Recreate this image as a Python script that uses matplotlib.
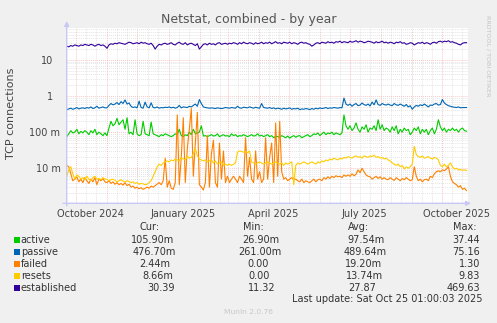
import matplotlib
matplotlib.use('Agg')
import matplotlib.pyplot as plt
from matplotlib.patches import Rectangle
from matplotlib.transforms import ScaledTranslation
import datetime as dt

# daily averages, one value every 2 days (rows of 40 days)
established = [24, 23, 25, 24, 26, 25, 24, 26, 25, 27, 26, 25, 27, 26, 24, 26, 27, 25, 26, 24,
               21, 26, 28, 27, 29, 28, 30, 29, 28, 27, 29, 31, 30, 28, 29, 30, 28, 31, 29, 30,
               28, 27, 29, 25, 20, 24, 27, 26, 28, 29, 27, 28, 30, 27, 26, 29, 31, 28, 27, 30,
               26, 28, 29, 27, 25, 28, 20, 23, 27, 28, 26, 29, 27, 28, 26, 29, 30, 27, 28, 29,
               27, 29, 28, 30, 29, 27, 30, 28, 31, 29, 28, 30, 29, 27, 30, 28, 29, 31, 28, 30,
               29, 31, 28, 30, 32, 29, 30, 28, 31, 30, 29, 31, 28, 30, 29, 27, 30, 31, 29, 30,
               28, 27, 24, 26, 29, 30, 28, 31, 30, 29, 32, 30, 31, 29, 32, 31, 33, 30, 32, 31,
               30, 33, 31, 32, 34, 31, 33, 32, 30, 31, 33, 32, 31, 29, 32, 30, 31, 33, 30, 31,
               29, 31, 30, 28, 31, 30, 32, 29, 30, 27, 28, 30, 29, 26, 28, 30, 29, 31, 28, 30,
               29, 27, 30, 31, 29, 32, 33, 31, 33, 32, 34, 31, 32, 30, 29, 27, 26, 29, 30, 30]
passive = [0.42, 0.44, 0.46, 0.43, 0.45, 0.48, 0.44, 0.46, 0.47, 0.45, 0.48, 0.46, 0.50, 0.45, 0.47, 0.52, 0.46, 0.48, 0.50, 0.47,
           0.47, 0.55, 0.62, 0.57, 0.60, 0.66, 0.58, 0.70, 0.62, 0.78, 0.60, 0.64, 0.52, 0.48, 0.50, 0.47, 0.72, 0.48, 0.46, 0.68,
           0.50, 0.47, 0.65, 0.48, 0.47, 0.50, 0.46, 0.48, 0.47, 0.49, 0.48, 0.50, 0.47, 0.49, 0.46, 0.48, 0.55, 0.47, 0.50, 0.49,
           0.48, 0.52, 0.50, 0.55, 0.60, 0.52, 0.80, 0.62, 0.50, 0.48, 0.47, 0.46, 0.47, 0.46, 0.45, 0.47, 0.46, 0.45, 0.46, 0.48,
           0.47, 0.46, 0.48, 0.47, 0.46, 0.52, 0.47, 0.46, 0.49, 0.48, 0.47, 0.50, 0.48, 0.46, 0.49, 0.47, 0.46, 0.62, 0.48, 0.47,
           0.46, 0.48, 0.45, 0.47, 0.44, 0.46, 0.45, 0.43, 0.46, 0.44, 0.45, 0.47, 0.43, 0.45, 0.44, 0.46, 0.42, 0.44, 0.43, 0.45,
           0.44, 0.42, 0.45, 0.43, 0.46, 0.44, 0.47, 0.45, 0.46, 0.48, 0.45, 0.47, 0.46, 0.48, 0.47, 0.46, 0.48, 0.47, 0.88, 0.60,
           0.55, 0.60, 0.52, 0.58, 0.62, 0.54, 0.56, 0.64, 0.58, 0.55, 0.60, 0.53, 0.68, 0.57, 0.78, 0.58, 0.55, 0.62, 0.58, 0.56,
           0.60, 0.56, 0.54, 0.62, 0.57, 0.55, 0.60, 0.56, 0.52, 0.58, 0.50, 0.54, 0.43, 0.50, 0.55, 0.52, 0.57, 0.54, 0.60, 0.55,
           0.50, 0.56, 0.55, 0.60, 0.62, 0.56, 0.58, 0.80, 0.64, 0.58, 0.54, 0.52, 0.50, 0.49, 0.48, 0.50, 0.47, 0.48, 0.48, 0.48]
active = [0.075, 0.09, 0.11, 0.095, 0.10, 0.12, 0.09, 0.105, 0.095, 0.11, 0.10, 0.085, 0.11, 0.095, 0.12, 0.085, 0.10, 0.09, 0.08, 0.095,
          0.08, 0.13, 0.20, 0.15, 0.17, 0.24, 0.16, 0.19, 0.22, 0.12, 0.25, 0.09, 0.10, 0.085, 0.22, 0.09, 0.08, 0.085, 0.20, 0.09,
          0.085, 0.08, 0.19, 0.09, 0.085, 0.08, 0.075, 0.085, 0.08, 0.09, 0.085, 0.08, 0.075, 0.08, 0.09, 0.085, 0.12, 0.08, 0.075, 0.085,
          0.08, 0.10, 0.085, 0.12, 0.09, 0.095, 0.10, 0.15, 0.078, 0.08, 0.075, 0.08, 0.085, 0.078, 0.08, 0.09, 0.075, 0.08, 0.085, 0.078,
          0.08, 0.075, 0.09, 0.08, 0.085, 0.075, 0.08, 0.078, 0.085, 0.08, 0.075, 0.08, 0.085, 0.078, 0.08, 0.09, 0.078, 0.082, 0.075, 0.08,
          0.085, 0.075, 0.08, 0.07, 0.078, 0.075, 0.072, 0.08, 0.075, 0.07, 0.078, 0.068, 0.075, 0.08, 0.072, 0.078, 0.08, 0.07, 0.075, 0.08,
          0.085, 0.075, 0.08, 0.09, 0.085, 0.095, 0.08, 0.09, 0.10, 0.085, 0.095, 0.09, 0.10, 0.085, 0.095, 0.09, 0.085, 0.095, 0.30, 0.15,
          0.12, 0.15, 0.11, 0.13, 0.18, 0.12, 0.10, 0.14, 0.12, 0.16, 0.10, 0.13, 0.12, 0.15, 0.11, 0.22, 0.12, 0.16, 0.11, 0.13,
          0.12, 0.10, 0.14, 0.11, 0.15, 0.09, 0.12, 0.10, 0.13, 0.11, 0.12, 0.085, 0.10, 0.13, 0.11, 0.14, 0.09, 0.12, 0.10, 0.12,
          0.085, 0.11, 0.13, 0.09, 0.12, 0.22, 0.14, 0.11, 0.13, 0.10, 0.12, 0.11, 0.13, 0.11, 0.12, 0.10, 0.12, 0.13, 0.11, 0.106]
resets = [0.006, 0.009, 0.011, 0.007, 0.005, 0.0065, 0.006, 0.005, 0.0055, 0.0048, 0.006, 0.005, 0.0045, 0.0055, 0.006, 0.005, 0.0052, 0.0048, 0.0055, 0.005,
          0.005, 0.0045, 0.0048, 0.005, 0.0046, 0.0042, 0.0045, 0.0048, 0.0044, 0.0042, 0.0045, 0.0043, 0.004, 0.0042, 0.0038, 0.004, 0.0036, 0.0038, 0.0037, 0.0035,
          0.0036, 0.004, 0.0045, 0.006, 0.008, 0.011, 0.013, 0.012, 0.014, 0.015, 0.016, 0.015, 0.017, 0.016, 0.018, 0.017, 0.016, 0.02, 0.018, 0.017,
          0.022, 0.019, 0.02, 0.025, 0.035, 0.022, 0.018, 0.017, 0.016, 0.017, 0.015, 0.016, 0.017, 0.014, 0.016, 0.013, 0.014, 0.015, 0.012, 0.013,
          0.012, 0.013, 0.012, 0.013, 0.014, 0.028, 0.03, 0.029, 0.028, 0.029, 0.027, 0.03, 0.015, 0.014, 0.013, 0.014, 0.015, 0.014, 0.013, 0.014,
          0.015, 0.014, 0.013, 0.014, 0.015, 0.014, 0.013, 0.014, 0.012, 0.014, 0.013, 0.014, 0.015, 0.0035, 0.012, 0.014, 0.013, 0.014, 0.015, 0.014,
          0.013, 0.014, 0.015, 0.014, 0.013, 0.015, 0.014, 0.016, 0.015, 0.017, 0.016, 0.018, 0.017, 0.019, 0.018, 0.017, 0.019, 0.018, 0.02, 0.019,
          0.021, 0.02, 0.019, 0.021, 0.022, 0.02, 0.021, 0.019, 0.022, 0.021, 0.02, 0.022, 0.021, 0.023, 0.02, 0.021, 0.019, 0.02, 0.018, 0.019,
          0.017, 0.016, 0.014, 0.013, 0.012, 0.013, 0.011, 0.012, 0.0095, 0.011, 0.01, 0.011, 0.013, 0.04, 0.024, 0.021, 0.02, 0.022, 0.019, 0.02,
          0.021, 0.019, 0.018, 0.02, 0.019, 0.017, 0.012, 0.011, 0.013, 0.011, 0.012, 0.014, 0.011, 0.0095, 0.01, 0.009, 0.0092, 0.0088, 0.009, 0.0087]
failed = [0.012, 0.011, 0.007, 0.0045, 0.005, 0.0058, 0.0042, 0.005, 0.004, 0.0055, 0.0045, 0.0038, 0.005, 0.0042, 0.0055, 0.0035, 0.005, 0.0045, 0.0052, 0.0042,
          0.004, 0.0045, 0.0038, 0.0042, 0.0036, 0.004, 0.0035, 0.0038, 0.0034, 0.004, 0.0033, 0.0036, 0.003, 0.0032, 0.0028, 0.003, 0.0027, 0.0029, 0.0026, 0.0028,
          0.003, 0.0028, 0.0032, 0.003, 0.0033, 0.0036, 0.004, 0.0035, 0.0045, 0.019, 0.003, 0.0045, 0.0028, 0.0026, 0.004, 0.30, 0.0035, 0.02, 0.25, 0.004,
          0.035, 0.12, 0.45, 0.006, 0.05, 0.35, 0.0035, 0.003, 0.0025, 0.004, 0.08, 0.003, 0.025, 0.06, 0.004, 0.003, 0.05, 0.005, 0.03, 0.004,
          0.006, 0.004, 0.005, 0.006, 0.005, 0.004, 0.006, 0.005, 0.004, 0.07, 0.006, 0.02, 0.005, 0.004, 0.03, 0.005, 0.008, 0.004, 0.005, 0.07,
          0.005, 0.02, 0.05, 0.004, 0.18, 0.006, 0.2, 0.008, 0.005, 0.0055, 0.0045, 0.005, 0.0055, 0.0048, 0.005, 0.0045, 0.0042, 0.005, 0.004, 0.0045,
          0.0042, 0.004, 0.0045, 0.005, 0.0042, 0.0048, 0.005, 0.0045, 0.0055, 0.005, 0.0058, 0.0052, 0.006, 0.0055, 0.0062, 0.0058, 0.006, 0.0055, 0.0065, 0.006,
          0.0065, 0.006, 0.007, 0.0062, 0.0068, 0.009, 0.0075, 0.01, 0.008, 0.0065, 0.006, 0.0058, 0.005, 0.0055, 0.006, 0.0052, 0.0058, 0.005, 0.0055, 0.005,
          0.0048, 0.0055, 0.005, 0.0046, 0.0055, 0.005, 0.0045, 0.0052, 0.0048, 0.0055, 0.005, 0.0045, 0.0048, 0.011, 0.006, 0.0045, 0.005, 0.0042, 0.0048, 0.005,
          0.0045, 0.006, 0.0055, 0.007, 0.008, 0.0085, 0.008, 0.009, 0.0085, 0.0095, 0.011, 0.006, 0.0042, 0.0038, 0.0035, 0.003, 0.0033, 0.0026, 0.0028, 0.0024]

labels = ['active', 'passive', 'failed', 'resets', 'established']
colors = ['#00cc00', '#0066b3', '#ff8000', '#ffcc00', '#330099']
cur = ['105.90m', '476.70m', '2.44m', '8.66m', '30.39']
mins = ['26.90m', '261.00m', '0.00', '0.00', '11.32']
avgs = ['97.54m', '489.64m', '19.20m', '13.74m', '27.87']
maxs = ['37.44', '75.16', '1.30', '9.83', '469.63']

first_day = dt.datetime(2024, 9, 21, 12)
last_day = dt.datetime(2025, 10, 25)
step = (last_day - first_day) / (len(active) - 1)
dates = [first_day + i * step for i in range(len(active))]

W, H = 497, 323
fig = plt.figure(figsize=(W / 100, H / 100), dpi=100, facecolor='#f0f0f0')


def fx(x):
    return x / W


def fy(y):
    return 1 - y / H


ax = fig.add_axes([fx(66.7), fy(203), (467.5 - 66.7) / W, (203 - 27.5) / H])
ax.set_facecolor('white')
for s in ax.spines.values():
    s.set_visible(False)

ax.set_yscale('log')
ax.set_ylim(1.09e-3, 79)
ax.set_xlim(dt.datetime(2024, 9, 21, 10), dt.datetime(2025, 10, 26))

# grid
dot = (0, (1, 1.6))
minor_col, major_col = '#d6d6d6', '#f4a8a8'
for dec in [0.001, 0.01, 0.1, 1, 10]:
    for k in range(2, 10):
        ax.axhline(dec * k, color=minor_col, lw=0.55, ls=dot, zorder=0)
for dec in [0.01, 0.1, 1, 10]:
    ax.axhline(dec, color=major_col, lw=0.55, ls=dot, zorder=0.5)
y, m = 2024, 9
while (y, m) <= (2025, 10):
    for d in (11, 21):
        ax.axvline(dt.datetime(y, m, d), color=minor_col, lw=0.55, ls=dot, zorder=0)
    if (y, m) > (2024, 9):
        ax.axvline(dt.datetime(y, m, 1), color=major_col, lw=0.55, ls=dot, zorder=0.5)
    m += 1
    if m > 12:
        y, m = y + 1, 1

series = [active, passive, failed, resets, established]
for vals, c in zip(series, colors):
    ax.plot(dates, vals, color=c, lw=0.8, zorder=2)

ax.set_yticks([0.01, 0.1, 1, 10], ['10 m', '100 m', '1', '10'])
ax.yaxis.set_minor_locator(matplotlib.ticker.NullLocator())
ax.tick_params(axis='y', length=0, pad=4.5, labelsize=7, labelcolor='#444444')
shift = ScaledTranslation(-7 / 100, 0, fig.dpi_scale_trans)
for lab in ax.get_yticklabels():
    if not lab.get_text().endswith('m'):
        lab.set_transform(lab.get_transform() + shift)

month_labels = [dt.datetime(2024, 10, 15), dt.datetime(2025, 1, 15), dt.datetime(2025, 4, 15),
                dt.datetime(2025, 7, 15), dt.datetime(2025, 10, 15)]
ax.set_xticks(month_labels, ['October 2024', 'January 2025', 'April 2025', 'July 2025', 'October 2025'])
ax.tick_params(axis='x', length=0, pad=4, labelsize=7, labelcolor='#444444')

fig.text(fx(11), fy(113), 'TCP connections', fontsize=8, color='#444444',
         rotation=90, ha='center', va='center')

# axis lines with arrows
axis_col = '#c8c8f4'
ax.annotate('', xy=(471, H - 203.3), xytext=(63, H - 203.3), xycoords='figure pixels',
            arrowprops=dict(arrowstyle='-|>', color=axis_col, lw=1, mutation_scale=7,
                            shrinkA=0, shrinkB=0), annotation_clip=False)
ax.annotate('', xy=(66.7, H - 21), xytext=(66.7, H - 206), xycoords='figure pixels',
            arrowprops=dict(arrowstyle='-|>', color=axis_col, lw=1, mutation_scale=7,
                            shrinkA=0, shrinkB=0), annotation_clip=False)

fig.text(fx(248.5), fy(19), 'Netstat, combined - by year', fontsize=9, color='#555555',
         ha='center', va='center')
fig.text(fx(488), fy(15), 'RRDTOOL / TOBI OETIKER', fontsize=4.6, color='#c4c4c4',
         rotation=270, ha='center', va='top')

# legend, justified like rrdtool does it
renderer = fig.canvas.get_renderer()


def text_width(s):
    if not s:
        return 0.0
    t = fig.text(0, 0, s, fontsize=7)
    w = t.get_window_extent(renderer).width
    t.remove()
    return w


sp = text_width('a a') - text_width('aa')


def justify(ypix, items, x0, x1, box=None):
    widths = []
    for i, s in enumerate(items):
        core = s.strip(' ')
        lead = len(s) - len(s.lstrip(' '))
        trail = len(s) - len(s.rstrip(' ')) if core else 0
        w = lead * sp + text_width(core) + trail * sp + (6.7 if i == 0 else 0)
        widths.append((w, lead, core))
    gap = (x1 - x0 - sum(w for w, _, _ in widths)) / (len(items) - 1)
    pos = x0
    for i, (w, lead, core) in enumerate(widths):
        tx = pos + lead * sp
        if i == 0:
            if box:
                fig.add_artist(Rectangle((fx(pos), fy(ypix + 3)), 6 / W, 6 / H,
                                         transform=fig.transFigure, color=box, lw=0))
            tx += 6.7
        if core:
            fig.text(fx(tx), fy(ypix), core, fontsize=7, color='#333333', ha='left', va='center')
        pos += w + gap


def munin_num(s):
    if s[-1].isalpha():
        return s[:-1].rjust(6) + s[-1]
    return s.rjust(6) + ' '


pad = max(len(l) for l in labels)
justify(227.3, [' ' * pad, 'Cur:', 'Min:', 'Avg:', 'Max:'], 14, 477)
for i in range(len(labels)):
    row = [labels[i].ljust(pad), munin_num(cur[i]), munin_num(mins[i]),
           munin_num(avgs[i]), munin_num(maxs[i])]
    justify(239.7 + 12 * i, row, 14, 483, box=colors[i])

fig.text(fx(482.7), fy(299.3), 'Last update: Sat Oct 25 01:00:03 2025', fontsize=7,
         color='#333333', ha='right', va='center')
fig.text(fx(248), fy(312.3), 'Munin 2.0.76', fontsize=5.4, color='#c8c8c8',
         ha='center', va='center')

fig.savefig('out.png', dpi=100, facecolor=fig.get_facecolor())
